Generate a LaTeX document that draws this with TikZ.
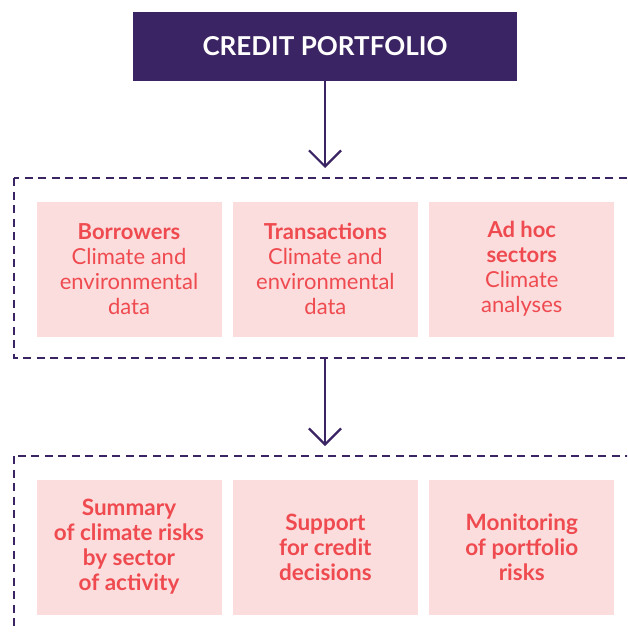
\documentclass[tikz,border=0pt]{standalone}
\usepackage{fontspec}
\setmainfont{Lato}
\usetikzlibrary{arrows.meta,positioning,calc}
\definecolor{portpurple}{HTML}{3B2463}
\definecolor{riskred}{HTML}{EF4A4F}
\definecolor{boxpink}{HTML}{FBDDDD}
\tikzset{
  titlebox/.style={fill=portpurple,text=white,minimum width=384pt,minimum height=69pt,
    inner sep=0pt,font=\bfseries\fontsize{26}{30}\selectfont},
  pinkbox/.style={fill=boxpink,text=riskred,minimum width=185pt,minimum height=135pt,
    inner sep=0pt,align=center,font=\fontsize{22}{25}\selectfont},
  usebox/.style={pinkbox,font=\bfseries\fontsize{22.5}{25}\selectfont},
  frame/.style={draw=portpurple,line width=1.7pt,dash pattern=on 8pt off 5.5pt},
  flow/.style={draw=portpurple,line width=2.2pt,-{Straight Barb[length=16pt,width=32pt]}}
}

\begin{document}
\begin{tikzpicture}[x=1pt,y=-1pt]
  \useasboundingbox (0,0) rectangle (627,632);
  \clip (0,0) rectangle (627,632);
  % top of the chain
  \node[titlebox] (portfolio) at (325,46.5) {CREDIT PORTFOLIO};
  \coordinate (datain) at (325,168);
  \draw[flow] (portfolio) -- (datain);

  % data sources
  \draw[frame] (14,178) rectangle (660,358);
  \node[pinkbox] (borrowers) at (129,269) {\textbf{Borrowers}\\Climate and\\environmental\\data};
  \node[pinkbox,right=11pt of borrowers] (transactions) {\textbf{Transactions}\\Climate and\\environmental\\data};
  \node[pinkbox,right=11pt of transactions] (sectors) {\textbf{Ad hoc}\\\textbf{sectors}\\Climate\\analyses};

  \coordinate (dataout) at (325,358);
  \coordinate (usein) at (325,446);
  \draw[flow] (dataout) -- (usein);

  % uses
  \draw[frame] (14,456) rectangle (660,700);
  \node[usebox] (summary) at (129,547) {Summary\\of climate risks\\by sector\\of activity};
  \node[usebox,right=11pt of summary] (support) {Support\\for credit\\decisions};
  \node[usebox,right=11pt of support] (monitoring) {Monitoring\\of portfolio\\risks};
\end{tikzpicture}
\end{document}
